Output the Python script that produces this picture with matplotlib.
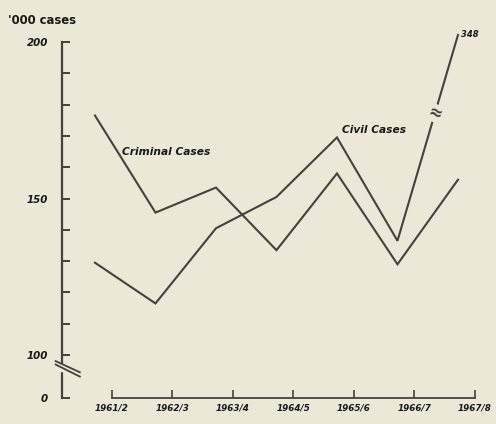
import numpy as np
import matplotlib
matplotlib.use("Agg")
import matplotlib.pyplot as plt
from matplotlib.ticker import FixedLocator, FuncFormatter

# court cases, thousands, by financial year
years = ["1961/2", "1962/3", "1963/4", "1964/5", "1965/6", "1966/7", "1967/8"]
criminal = [176.5, 145.5, 153.5, 133.5, 158.0, 129.0, 156.0]
civil = [129.5, 116.5, 140.5, 150.5, 169.5, 136.5, 348.0]
y_labels = {0: "0", 100: "100", 150: "150", 200: "200"}

paper = "#ebe8d8"
ink = "#45423a"
txt = "#1a1915"


# broken scale: 0-100 squeezed at the bottom, anything over 200 squeezed at the top
def forward(v):
    v = np.asarray(v, dtype=float)
    return np.where(v < 100, 100 - (100 - v) * 0.137,
                    np.where(v > 200, 200 + (v - 200) * 0.015, v))


def inverse(d):
    d = np.asarray(d, dtype=float)
    return np.where(d < 100, 100 - (100 - d) / 0.137,
                    np.where(d > 200, 200 + (d - 200) / 0.015, d))


fig = plt.figure(figsize=(4.96, 4.24), dpi=100, facecolor=paper)
ax = fig.add_axes([0.125, 0.0613, 0.863, 0.862], facecolor=paper)
ax.set_yscale("function", functions=(forward, inverse))
ax.set_xlim(-0.545, 6.53)
ax.set_ylim(0, 400)

x = np.arange(len(years))
ax.plot(x, criminal, color=ink, lw=1.5, solid_joinstyle="miter")
ax.plot(x, civil, color=ink, lw=1.5, solid_joinstyle="miter")

tf = dict(family="DejaVu Sans", weight="bold", style="italic", color=txt)
ax.text(0.45, 165, "Criminal Cases", fontsize=7.7, va="center", ha="left", **tf)
ax.text(4.08, 172, "Civil Cases", fontsize=7.7, va="center", ha="left", **tf)
ax.annotate("348", (x[-1], civil[-1]), xytext=(2, 0), textcoords="offset points",
            fontsize=6, va="center", ha="left", annotation_clip=False, **tf)

# break symbol on the last civil segment
f = 0.62
bx = x[5] + f
by = inverse(forward(civil[5]) + f * (forward(civil[6]) - forward(civil[5])))
ax.text(bx, by, "≈", fontsize=12, color=ink, ha="center", va="center", rotation=-20,
        weight="bold", bbox=dict(boxstyle="square,pad=0.0", fc=paper, ec="none"))

# axes
for s in ["top", "right", "bottom"]:
    ax.spines[s].set_visible(False)
ax.spines["left"].set_bounds(0, 200)
ax.spines["left"].set_linewidth(1.6)
ax.spines["left"].set_color(ink)

ax.yaxis.set_major_locator(FixedLocator([0] + list(range(100, 201, 10))))
ax.yaxis.set_major_formatter(FuncFormatter(lambda v, p: y_labels.get(int(round(v)), "")))
ax.yaxis.set_minor_locator(FixedLocator([]))
ax.tick_params(axis="y", direction="in", length=6, width=1.4, color=ink, pad=10,
               labelsize=7.4, labelcolor=txt)
for lab in ax.get_yticklabels():
    lab.set_fontweight("bold")
    lab.set_fontstyle("italic")

# x axis drawn as its own line, ticks sit right of the points
xt = x + 0.28
ax.plot([xt[0], xt[-1]], [0, 0], color=ink, lw=1.3, clip_on=False)
ax.set_xticks(xt)
ax.set_xticklabels(years)
ax.tick_params(axis="x", direction="in", length=6, width=1.2, color=ink, pad=4,
               labelsize=6.3, labelcolor=txt)
for lab in ax.get_xticklabels():
    lab.set_fontweight("bold")
    lab.set_fontstyle("italic")

# break marks on the y axis below 100
gap = [-0.65, -0.25]
ax.fill_between(gap, 62, 80, color=paper, zorder=3, clip_on=False)
ax.plot(gap, [86, 60], color=ink, lw=1.3, clip_on=False, zorder=4)
ax.plot(gap, [78, 50], color=ink, lw=1.3, clip_on=False, zorder=4)

fig.text(8 / 496, 1 - 20 / 424, "'000 cases", fontsize=8.4, ha="left", va="center",
         family="DejaVu Sans", weight="bold", color=txt)

fig.savefig("out.png", dpi=100, facecolor=paper)
